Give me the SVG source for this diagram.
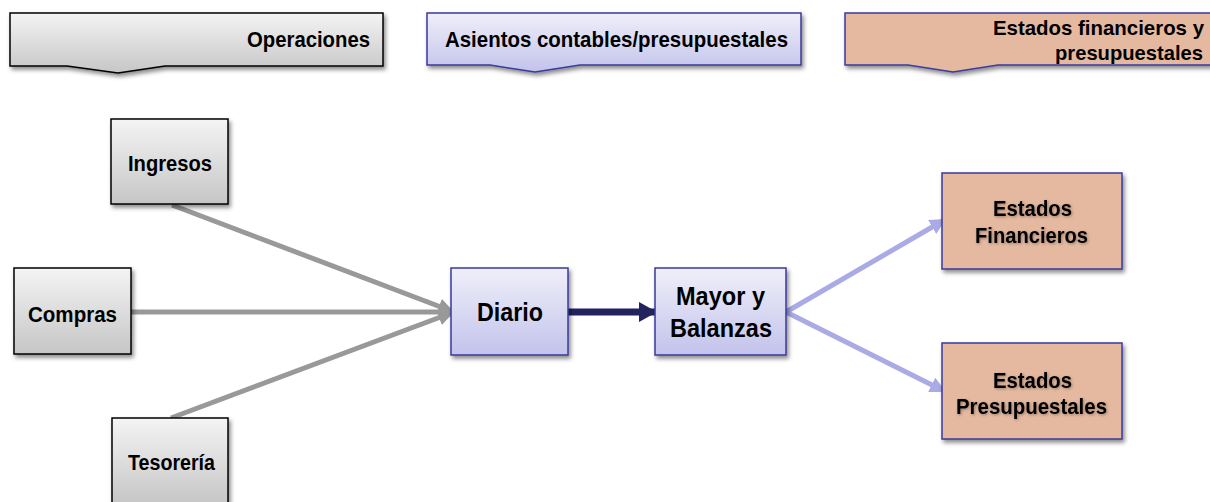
<svg xmlns="http://www.w3.org/2000/svg" width="1210" height="502" viewBox="0 0 1210 502">
<style>
text{font-family:"Liberation Sans",Arial,sans-serif;font-weight:bold;fill:#000}
.t20{font-size:22px}
.t23{font-size:26px}
.t19{font-size:20.5px}
.gray{fill:url(#gGray);stroke:#000;stroke-width:1.5}
.lav{fill:url(#gLav);stroke:#3a3a9a;stroke-width:1.5}
.sal{fill:#e5b9a0;stroke:#3a3aa0;stroke-width:1.5}
.sh{filter:url(#shadow)}
.tsh{filter:url(#tshadow)}
.cg{stroke:#999;stroke-width:5;fill:none;marker-end:url(#mGray)}
.cn{stroke:#23235e;stroke-width:7;fill:none;marker-end:url(#mNavy)}
.cl{stroke:#aaaae6;stroke-width:5;fill:none;marker-end:url(#mLav)}
</style>
<defs>
<linearGradient id="gGray" x1="0" y1="0" x2="0" y2="1"><stop offset="0" stop-color="#f4f4f4"/><stop offset="1" stop-color="#c6c6c6"/></linearGradient>
<linearGradient id="gLav" x1="0" y1="0" x2="0" y2="1"><stop offset="0" stop-color="#efeffa"/><stop offset="1" stop-color="#c3c3ec"/></linearGradient>
<filter id="shadow" x="-10%" y="-10%" width="130%" height="140%"><feDropShadow dx="2" dy="3" stdDeviation="2" flood-color="#000" flood-opacity="0.45"/></filter>
<filter id="tshadow" x="-10%" y="-30%" width="120%" height="160%"><feDropShadow dx="1" dy="1" stdDeviation="1.5" flood-color="#000" flood-opacity="0.35"/></filter>
<marker id="mGray" markerUnits="userSpaceOnUse" markerWidth="18" markerHeight="16" refX="16" refY="8" orient="auto"><path d="M0,0 L16,8 L0,16 Z" fill="#999"/></marker>
<marker id="mNavy" markerUnits="userSpaceOnUse" markerWidth="20" markerHeight="22" refX="18" refY="11" orient="auto"><path d="M0,1 L18,11 L0,21 Z" fill="#23235e"/></marker>
<marker id="mLav" markerUnits="userSpaceOnUse" markerWidth="18" markerHeight="16" refX="16" refY="8" orient="auto"><path d="M0,0 L16,8 L0,16 Z" fill="#aaaae6"/></marker>
</defs>

<g id="hdr-operaciones">
<path class="gray sh" d="M10,13 H383 V66 H165 L118,73 L67,66 H10 Z"/>
<text class="t20" x="247" y="47" textLength="123" lengthAdjust="spacingAndGlyphs">Operaciones</text>
</g>
<g id="hdr-asientos">
<path class="lav sh" d="M427,13 H801 V65 H580 L535,72 L490,65 H427 Z"/>
<text class="t20" x="445" y="47" textLength="343" lengthAdjust="spacingAndGlyphs">Asientos contables/presupuestales</text>
</g>
<g id="hdr-estados">
<path class="sal sh" d="M845,13 H1211 V65 H998 L953,72 L908,65 H845 Z"/>
<text class="t19" x="993" y="35" textLength="211" lengthAdjust="spacingAndGlyphs">Estados financieros y</text>
<text class="t19" x="1055" y="60" textLength="148" lengthAdjust="spacingAndGlyphs">presupuestales</text>
</g>

<g id="connectors">
<line class="cg" x1="172" y1="205" x2="454" y2="312"/>
<line class="cg" x1="131" y1="312" x2="455" y2="312"/>
<line class="cg" x1="171" y1="418" x2="454" y2="312"/>
<line class="cn" x1="568" y1="312" x2="657" y2="312"/>
<line class="cl" x1="786" y1="312" x2="946" y2="219"/>
<line class="cl" x1="786" y1="312" x2="946" y2="392"/>
</g>

<g id="ingresos">
<rect class="gray sh" x="111" y="119" width="117" height="85"/>
<text class="t20" x="128" y="171" textLength="84" lengthAdjust="spacingAndGlyphs">Ingresos</text>
</g>
<g id="compras">
<rect class="gray sh" x="14" y="268" width="117" height="86"/>
<text class="t20" x="28" y="322" textLength="89" lengthAdjust="spacingAndGlyphs">Compras</text>
</g>
<g id="tesoreria">
<rect class="gray sh" x="112" y="418" width="116" height="86"/>
<text class="t20" x="128" y="470" textLength="87" lengthAdjust="spacingAndGlyphs">Tesorería</text>
</g>
<g id="diario">
<rect class="lav sh" x="451" y="268" width="117" height="87"/>
<text class="t23" x="477" y="321" textLength="66" lengthAdjust="spacingAndGlyphs">Diario</text>
</g>
<g id="mayor">
<rect class="lav sh" x="655" y="268" width="131" height="87"/>
<text class="t23" x="676" y="305" textLength="89" lengthAdjust="spacingAndGlyphs">Mayor y</text>
<text class="t23" x="670" y="337" textLength="102" lengthAdjust="spacingAndGlyphs">Balanzas</text>
</g>
<g id="estados-financieros">
<rect class="sal sh" x="942" y="173" width="180" height="96"/>
<text class="t20 tsh" x="993" y="216" textLength="79" lengthAdjust="spacingAndGlyphs">Estados</text>
<text class="t20 tsh" x="975" y="243" textLength="113" lengthAdjust="spacingAndGlyphs">Financieros</text>
</g>
<g id="estados-presupuestales">
<rect class="sal sh" x="942" y="343" width="180" height="96"/>
<text class="t20 tsh" x="993" y="388" textLength="79" lengthAdjust="spacingAndGlyphs">Estados</text>
<text class="t20 tsh" x="956" y="414" textLength="151" lengthAdjust="spacingAndGlyphs">Presupuestales</text>
</g>
</svg>
